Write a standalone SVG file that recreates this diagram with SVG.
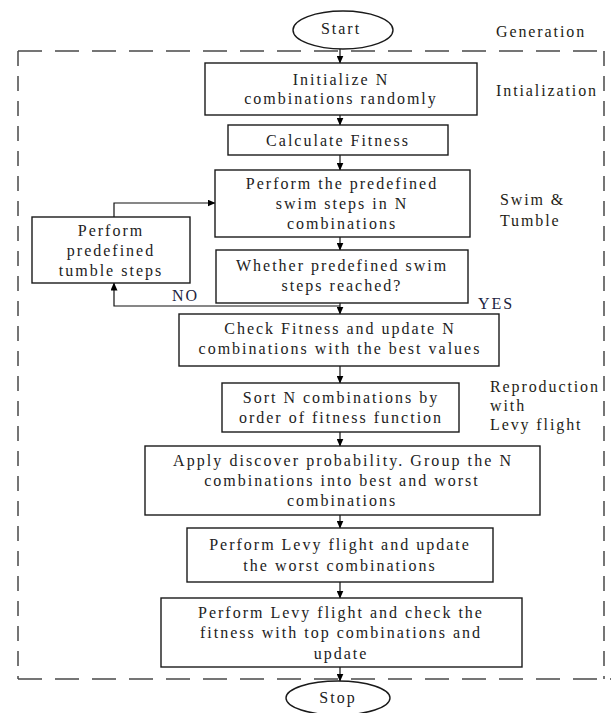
<svg xmlns="http://www.w3.org/2000/svg" width="611" height="713" viewBox="0 0 611 713" font-family="Liberation Serif, Times New Roman, serif">
<defs>
<marker id="ah" markerWidth="8" markerHeight="7" refX="7.5" refY="3.5" orient="auto" markerUnits="userSpaceOnUse">
<path d="M0,0 L8,3.5 L0,7 Z" fill="#000"/>
</marker>
<style>
.box{fill:#fff;stroke:#1a1a1a;stroke-width:1.4}
.t{font-family:'Liberation Serif','Times New Roman',serif;font-size:16px;fill:#222;text-anchor:middle;letter-spacing:2px}
.lbl{font-family:'Liberation Serif','Times New Roman',serif;font-size:16px;fill:#241d16;letter-spacing:1.9px}
.yn{fill:#1c2340}
.c{fill:none;stroke:#111;stroke-width:1.2}
.dh{fill:none;stroke:#484848;stroke-width:1.5;stroke-dasharray:24 13}
.dv{fill:none;stroke:#484848;stroke-width:1.5;stroke-dasharray:15 10}
</style>
</defs>
<rect width="611" height="713" fill="#fff"/>
<g id="frame">
<path class="dh" d="M18,51 H604"/>
<path class="dv" d="M604,51 V679"/>
<path class="dv" d="M18,51 V679"/>
<path class="dh" d="M18,679 H611"/>
</g>
<g id="labels">
<text class="lbl" x="496" y="37">Generation</text>
<text class="lbl" x="496" y="96">Intialization</text>
<text class="lbl" x="500" y="205">Swim &amp;</text>
<text class="lbl" x="500" y="226">Tumble</text>
<text class="lbl" x="490" y="392">Reproduction</text>
<text class="lbl" x="490" y="411">with</text>
<text class="lbl" x="490" y="430">Levy flight</text>
<text class="lbl yn" x="172" y="301">NO</text>
<text class="lbl yn" x="478" y="309">YES</text>
</g>
<g id="connectors">
<line class="c" x1="340" y1="49" x2="340" y2="63" marker-end="url(#ah)"/>
<line class="c" x1="340" y1="115" x2="340" y2="125" marker-end="url(#ah)"/>
<line class="c" x1="340" y1="155" x2="340" y2="170" marker-end="url(#ah)"/>
<line class="c" x1="340" y1="237" x2="340" y2="250" marker-end="url(#ah)"/>
<line class="c" x1="340" y1="303" x2="340" y2="314" marker-end="url(#ah)"/>
<path class="c" d="M340,306 H114 V283" marker-end="url(#ah)"/>
<path class="c" d="M114,217 V203 H215" marker-end="url(#ah)"/>
<line class="c" x1="340" y1="366" x2="340" y2="383" marker-end="url(#ah)"/>
<line class="c" x1="340" y1="432" x2="340" y2="446" marker-end="url(#ah)"/>
<line class="c" x1="340" y1="515" x2="340" y2="528" marker-end="url(#ah)"/>
<line class="c" x1="340" y1="582" x2="340" y2="598" marker-end="url(#ah)"/>
<line class="c" x1="340" y1="667" x2="340" y2="681" marker-end="url(#ah)"/>
</g>
<g id="start">
<ellipse class="box" cx="343" cy="30" rx="50" ry="19"/>
<text class="t" x="341" y="34">Start</text>
</g>
<g id="init">
<rect class="box" x="205" y="63" width="272" height="52"/>
<text class="t" x="341" y="85">Initialize N</text>
<text class="t" x="341" y="104">combinations randomly</text>
</g>
<g id="calc">
<rect class="box" x="228" y="125" width="220" height="30"/>
<text class="t" x="338" y="146">Calculate Fitness</text>
</g>
<g id="swim">
<rect class="box" x="215" y="170" width="255" height="67"/>
<text class="t" x="342" y="189">Perform the predefined</text>
<text class="t" x="342" y="209">swim steps in N</text>
<text class="t" x="342" y="229">combinations</text>
</g>
<g id="tumble">
<rect class="box" x="32" y="217" width="158" height="66"/>
<text class="t" x="111" y="236">Perform</text>
<text class="t" x="111" y="256">predefined</text>
<text class="t" x="111" y="276">tumble steps</text>
</g>
<g id="whether">
<rect class="box" x="216" y="250" width="252" height="53"/>
<text class="t" x="342" y="271">Whether predefined swim</text>
<text class="t" x="342" y="291">steps reached?</text>
</g>
<g id="check">
<rect class="box" x="179" y="314" width="320" height="52"/>
<text class="t" x="340" y="334">Check Fitness and update N</text>
<text class="t" x="340" y="354">combinations with the best values</text>
</g>
<g id="sort">
<rect class="box" x="222" y="383" width="237" height="49"/>
<text class="t" x="341" y="403">Sort N combinations by</text>
<text class="t" x="341" y="423">order of fitness function</text>
</g>
<g id="apply">
<rect class="box" x="145" y="446" width="395" height="69"/>
<text class="t" x="343" y="466" textLength="340" lengthAdjust="spacing">Apply discover probability. Group the N</text>
<text class="t" x="342" y="486">combinations into best and worst</text>
<text class="t" x="342" y="506">combinations</text>
</g>
<g id="levy1">
<rect class="box" x="187" y="528" width="306" height="54"/>
<text class="t" x="340" y="550">Perform Levy flight and update</text>
<text class="t" x="340" y="571">the worst combinations</text>
</g>
<g id="levy2">
<rect class="box" x="161" y="598" width="361" height="69"/>
<text class="t" x="341" y="618">Perform Levy flight and check the</text>
<text class="t" x="341" y="638">fitness with top combinations and</text>
<text class="t" x="341" y="659">update</text>
</g>
<g id="stop">
<ellipse class="box" cx="338" cy="698" rx="52" ry="17"/>
<text class="t" x="338" y="703">Stop</text>
</g>
</svg>
